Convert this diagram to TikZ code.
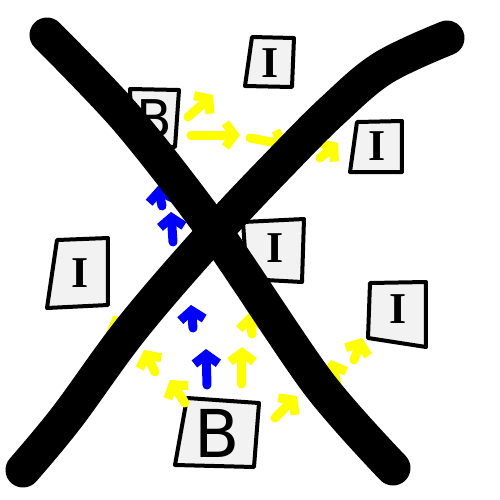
\documentclass[tikz,border=0pt]{standalone}
\usepackage{fontspec}
\usetikzlibrary{arrows.meta}
\newfontfamily\ifont{Liberation Serif}
\newfontfamily\bfont{DejaVu Sans}
\definecolor{cardgray}{HTML}{F2F2F2}
\definecolor{hlyellow}{HTML}{FFFF00}
\definecolor{hlblue}{HTML}{0000FF}
\begin{document}
\begin{tikzpicture}[x=0.5pt,y=-0.5pt,
  card/.style={draw=black, line width=2pt, fill=cardgray, line join=round},
  lbl/.style={font=\ifont\bfseries\fontsize{22}{22}\selectfont, inner sep=0pt},
  bigb/.style={font=\bfont\fontsize{33}{33}\selectfont, inner sep=0pt},
  yarr/.style={draw=hlyellow, line width=4.5pt, line cap=round, line join=round,
    -{Straight Barb[length=4.5pt,width=12pt]}},
  barr/.style={draw=hlblue, line width=4.5pt, line cap=round, line join=round,
    -{Straight Barb[length=4.5pt,width=12pt]}},
  cross/.style={draw=black, line width=17.5pt, line cap=round, line join=round}]
\path[use as bounding box] (0,0) rectangle (500,500);

% cards
\draw[card] (130,89) -- (179,90) -- (175,147) -- (132,145) -- cycle;
\node[bigb, font=\bfont\fontsize{26}{26}\selectfont] (btop) at (154,119) {B};
\draw[card] (252,37) -- (294,38) -- (292,87) -- (245,86) -- cycle;
\node[lbl] (itop) at (270,63) {I};
\draw[card] (357,122) -- (402,121) -- (402,172) -- (350,172) -- cycle;
\node[lbl] (irt) at (377,146) {I};
\draw[card] (243,222) -- (304,219) -- (302,282) -- (247,279) -- cycle;
\node[lbl] (imid) at (275,248) {I};
\draw[card] (57,240) -- (108,238) -- (108,305) -- (47,308) -- cycle;
\node[lbl] (ileft) at (80,273) {I};
\draw[card] (370,283) -- (426,282) -- (426,347) -- (368,338) -- cycle;
\node[lbl] (irb) at (398,309) {I};
\draw[card] (187,398) -- (259,403) -- (254,467) -- (175,465) -- cycle;
\node[bigb] (bbot) at (217,433) {B};

% yellow arrows
\draw[yarr] (188,117) -- (213,95);
\draw[yarr] (191,135) -- (240,135);
\draw[yarr] (250,138) -- (288,145);
\draw[yarr] (320,158) -- (338,143);
\draw[yarr] (185,403) -- (170,380);
\draw[yarr] (155,372) -- (144,350);
\draw[yarr] (125,336) -- (113,316);
\draw[yarr] (242,384) -- (242,347);
\draw[yarr] (252,334) -- (249,313);
\draw[yarr] (275,418) -- (297,396);
\draw[yarr] (337,384) -- (331,360);
\draw[yarr] (354,360) -- (362,338);
% blue arrows
\draw[barr] (207,385) -- (206,349);
\draw[barr] (193,328) -- (191,305);
\draw[barr] (173,242) -- (171,212);
\draw[barr] (162,206) -- (158,186);

% the cross
\draw[cross] plot[smooth, tension=0.5] coordinates {(47,35) (128,120) (215,232) (318,383) (393,468)};
\draw[cross] plot[smooth, tension=0.6] coordinates {(447,38) (383,68) (333,110) (283,160) (215,232) (133,327) (67,417) (23,470)};
\end{tikzpicture}
\end{document}
